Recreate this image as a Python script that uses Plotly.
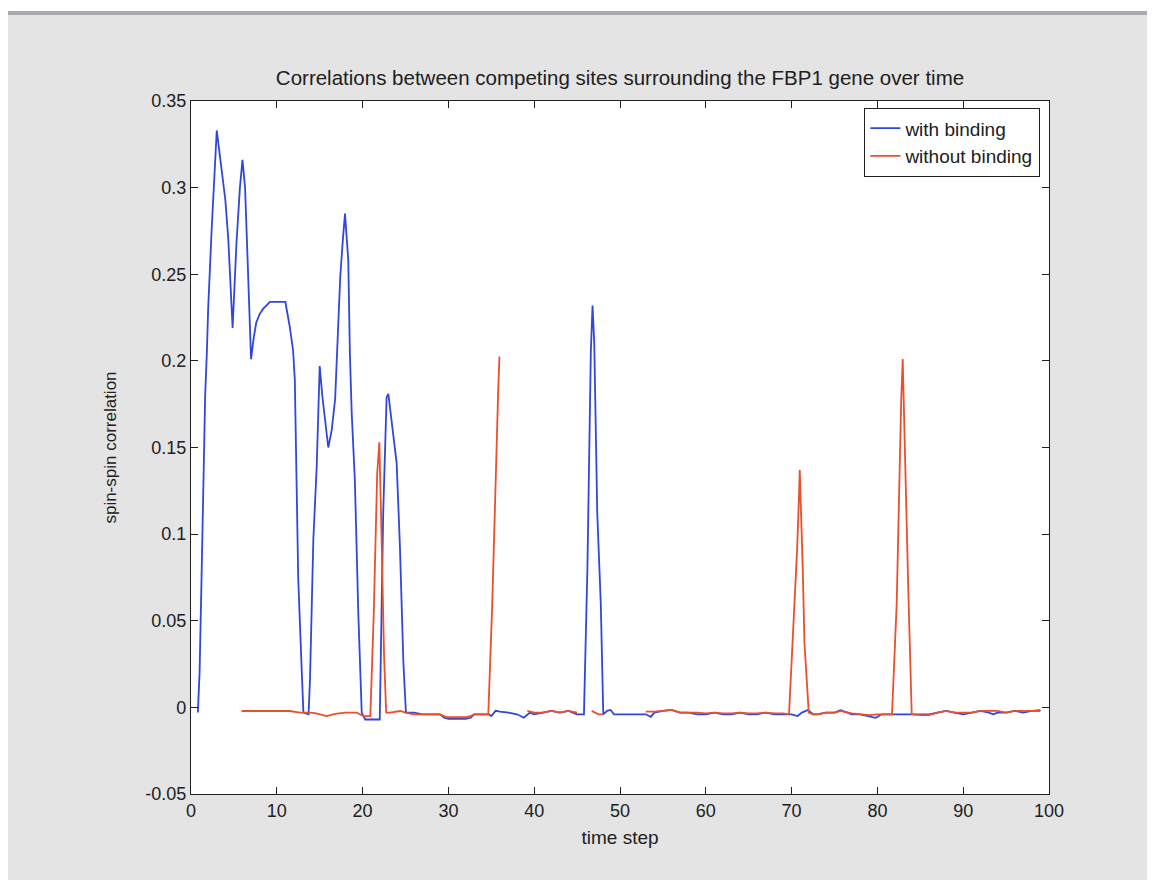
import plotly.graph_objects as go

# time steps / values
blue_x = [0.8, 1.0, 1.25, 1.45, 1.65, 1.85, 2.0, 2.4, 2.8, 3.0, 3.2, 3.6, 4.0, 4.35, 4.55, 4.85,
          5.3, 5.7, 6.0, 6.3, 6.5, 6.7, 7.0, 7.3, 7.6, 8.0, 8.4, 9.2, 11.0, 11.5, 11.9, 12.1,
          12.3, 12.5, 12.9, 13.1, 13.7, 13.87, 14.26, 14.65, 15.0, 15.3, 16.0, 16.4, 16.8, 17.4,
          17.7, 17.95, 18.33, 18.52, 18.73, 19.1, 19.5, 19.9, 20.3, 22.0, 22.4, 22.8, 23.0, 23.4,
          23.97, 24.35, 24.75, 25.05, 25.5, 26, 27, 28, 29, 29.5, 30, 31, 32, 32.6, 33, 34, 34.7,
          35, 35.5, 36, 37, 38, 38.8, 39.5, 40, 41, 42, 43, 44, 45, 45.8, 46.2, 46.4, 46.6, 46.8,
          47.0, 47.35, 47.76, 48.05, 48.5, 48.9, 49.3, 50, 51, 52, 53, 53.6, 54, 55, 56, 57, 58,
          59, 60, 61, 62, 63, 64, 65, 66, 67, 68, 69, 70, 70.7, 71.2, 71.9, 72.5, 73, 74, 75,
          75.7, 76.5, 77, 78, 79, 79.8, 80.5, 81, 82, 83, 84, 85, 86, 87, 88, 89, 90, 91, 92,
          93, 93.5, 94, 95, 96, 97, 98, 99]
blue_y = [-0.003, 0.02, 0.08, 0.137, 0.18, 0.205, 0.23, 0.275, 0.316, 0.333, 0.325, 0.31, 0.293,
          0.27, 0.247, 0.219, 0.268, 0.3, 0.316, 0.3, 0.272, 0.243, 0.201, 0.213, 0.222, 0.227,
          0.23, 0.234, 0.234, 0.22, 0.206, 0.189, 0.127, 0.074, 0.022, -0.003, -0.004, 0.016,
          0.097, 0.139, 0.197, 0.18, 0.15, 0.16, 0.178, 0.249, 0.27, 0.285, 0.258, 0.204, 0.17,
          0.131, 0.054, -0.003, -0.007, -0.007, 0.112, 0.179, 0.181, 0.164, 0.141, 0.093, 0.026,
          -0.003, -0.003, -0.003, -0.004, -0.004, -0.004, -0.006, -0.0066, -0.0066, -0.0066,
          -0.006, -0.004, -0.004, -0.004, -0.005, -0.002, -0.0025, -0.003, -0.004, -0.006, -0.003,
          -0.004, -0.003, -0.002, -0.003, -0.002, -0.004, -0.004, 0.08, 0.142, 0.205, 0.232,
          0.21, 0.112, 0.06, -0.004, -0.002, -0.0015, -0.004, -0.004, -0.004, -0.004, -0.004,
          -0.0055, -0.003, -0.002, -0.0015, -0.003, -0.003, -0.004, -0.004, -0.003, -0.004,
          -0.004, -0.003, -0.004, -0.004, -0.003, -0.004, -0.004, -0.004, -0.005, -0.003,
          -0.0015, -0.004, -0.004, -0.003, -0.003, -0.0017, -0.003, -0.004, -0.004, -0.005,
          -0.006, -0.004, -0.004, -0.004, -0.004, -0.004, -0.004, -0.004, -0.003, -0.002,
          -0.003, -0.004, -0.003, -0.002, -0.003, -0.004, -0.003, -0.003, -0.002, -0.003,
          -0.002, -0.002]

red_x = [5.9, 11.5, 12.7, 13.3, 13.9, 14.6, 15.8, 16.8, 18, 19.3, 20.1, 20.9, 21.3, 21.7, 21.95,
         22.2, 22.5, 22.75, 23.2, 24.4, 25, 26, 27, 28, 29, 29.5, 30, 31, 32, 32.6, 33, 34, 34.65,
         35.1, 35.3, 35.6, 35.8, 35.95, 36.0,
         39.2, 40, 41, 42, 43, 44, 45, 45.5,
         46.7, 47.5, 48.0, 48.5,
         53.0, 54, 55, 56, 57, 58, 59, 60, 61, 62, 63, 64, 65, 66, 67, 68, 69, 69.7, 70.35,
         70.65, 70.85, 70.95, 71.3, 71.5, 72.0, 72.5, 73, 74, 75, 75.7, 77, 78, 79, 80, 81, 81.7,
         82.25, 82.55, 82.77, 82.95, 83.17, 83.6, 84.0, 85, 86, 87, 88, 89, 90, 91, 92, 93, 94,
         95, 96, 97, 98, 99]
red_y = [-0.0021, -0.0021, -0.003, -0.003, -0.003, -0.0035, -0.005, -0.0037, -0.003, -0.003,
         -0.005, -0.005, 0.054, 0.135, 0.153, 0.1, 0.03, -0.003, -0.003, -0.0021, -0.003, -0.004,
         -0.004, -0.004, -0.004, -0.005, -0.0057, -0.0057, -0.0057, -0.005, -0.004, -0.004,
         -0.004, 0.058, 0.098, 0.141, 0.182, 0.2025, None,
         -0.002, -0.003, -0.003, -0.002, -0.003, -0.002, -0.003, None,
         -0.002, -0.004, -0.004, None,
         -0.0025, -0.0025, -0.002, -0.0015, -0.003, -0.003, -0.003, -0.0035, -0.003, -0.0035,
         -0.0035, -0.003, -0.0035, -0.0035, -0.003, -0.0035, -0.0035, -0.004, 0.06, 0.092, 0.12,
         0.137, 0.08, 0.037, -0.003, -0.004, -0.004, -0.003, -0.003, -0.002, -0.0035, -0.004,
         -0.0045, -0.004, -0.004, -0.004, 0.06, 0.138, 0.177, 0.201, 0.149, 0.068, -0.004,
         -0.0045, -0.0045, -0.003, -0.002, -0.003, -0.003, -0.003, -0.002, -0.002, -0.002,
         -0.003, -0.002, -0.002, -0.002, -0.0015]

x_ticks = [0, 10, 20, 30, 40, 50, 60, 70, 80, 90, 100]
y_ticks = [-0.05, 0, 0.05, 0.1, 0.15, 0.2, 0.25, 0.3, 0.35]
y_tick_text = ['-0.05', '0', '0.05', '0.1', '0.15', '0.2', '0.25', '0.3', '0.35']

FONT = 'Liberation Sans Narrow, Arial Narrow, Liberation Sans, Arial, sans-serif'
INK = '#202020'

fig = go.Figure()
fig.add_trace(go.Scatter(x=blue_x, y=blue_y, mode='lines', name='with binding',
                         line=dict(color='#3046dc', width=1.8)))
fig.add_trace(go.Scatter(x=red_x, y=red_y, mode='lines', name='without binding',
                         line=dict(color='#e8502e', width=1.8), connectgaps=False))

axis_style = dict(showline=True, linecolor=INK, linewidth=1.4, mirror='ticks',
                  ticks='inside', ticklen=7, tickcolor=INK, tickwidth=1.4,
                  showgrid=False, zeroline=False, tickfont=dict(size=18, color=INK))

fig.update_xaxes(range=[0, 100], tickvals=x_ticks,
                 title=dict(text='time step', font=dict(size=19, color=INK), standoff=10),
                 **axis_style)
fig.update_yaxes(range=[-0.05, 0.35], tickvals=y_ticks, ticktext=y_tick_text,
                 title=dict(text='spin-spin correlation', font=dict(size=17, color=INK),
                            standoff=24),
                 **axis_style)

fig.update_layout(
    width=1155, height=880,
    margin=dict(l=183, r=114, t=93, b=94),
    paper_bgcolor='#e4e4e4', plot_bgcolor='white',
    font=dict(family=FONT, color=INK),
    title=dict(text='Correlations between competing sites surrounding the FBP1 gene over time',
               x=0.5, xanchor='center', xref='paper', y=0.9205, yanchor='middle',
               font=dict(size=20.5, color=INK)),
    showlegend=True,
    legend=dict(x=0.9895, xanchor='right', y=0.99, yanchor='top', bgcolor='white',
                bordercolor=INK, borderwidth=1.4, font=dict(size=19, color=INK),
                itemwidth=30),
    shapes=[
        dict(type='rect', xref='paper', yref='paper', x0=-0.3, x1=1.2, y0=1.1299, y1=1.2,
             fillcolor='white', line=dict(width=0), layer='below'),
        dict(type='rect', xref='paper', yref='paper', x0=-0.3, x1=1.2, y0=1.1241, y1=1.1299,
             fillcolor='#a9a9b1', line=dict(width=0), layer='below'),
    ],
)

fig.write_html('out.html')
